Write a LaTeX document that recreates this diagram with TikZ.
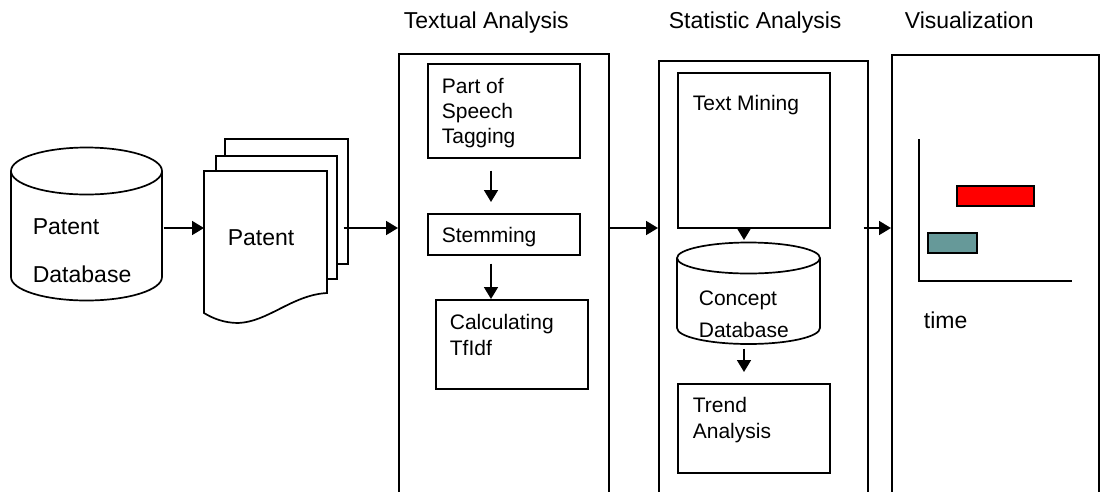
\documentclass[tikz,border=0pt]{standalone}
\usepackage{fontspec}
\setmainfont{Liberation Sans}
\usetikzlibrary{arrows.meta}
\definecolor{tealbar}{HTML}{669999}
\begin{document}
\begin{tikzpicture}[x=1pt,y=-1pt, line width=1.7pt,
  box/.style={draw, inner sep=0pt, anchor=north west, fill=white},
  area/.style={inner sep=0pt, anchor=north west},
  arr/.style={-{Triangle[length=12pt,width=14pt]}},
  tin/.style={font=\fontsize{21}{22}\selectfont, inner sep=0pt, anchor=base west, align=left},
  tout/.style={font=\fontsize{23}{24}\selectfont, inner sep=0pt, anchor=base west, align=left}]
\useasboundingbox (0,0) rectangle (1100,491);

% titles
\node[tout] (t1) at (403,28) {Textual Analysis};
\node[tout] (t2) at (668,28) {Statistic Analysis};
\node[tout] (t3) at (904,28) {Visualization};

% panels (open at the bottom: cut by the page)
\node[box, minimum width=210pt, minimum height=460pt] (ta) at (398,53) {};
\node[box, minimum width=209pt, minimum height=460pt] (sa) at (658,60) {};
\node[box, minimum width=207pt, minimum height=460pt] (va) at (891,54) {};

% patent database cylinder
\node[area, minimum width=151pt, minimum height=152pt] (db) at (11,148) {};
\draw[fill=white] (11,171) -- (11,277) arc[start angle=180, end angle=0, x radius=75.5, y radius=23.5] -- (162,171);
\draw (86.5,171) ellipse [x radius=75.5, y radius=23.5];
\node[tout] (dbt1) at (32,234) {Patent};
\node[tout] (dbt2) at (32,282) {Database};

% document stack
\node[box, minimum width=123pt, minimum height=125pt] (p3) at (224,138) {};
\node[box, minimum width=121pt, minimum height=123pt] (p2) at (215,155) {};
\node[area, minimum width=123pt, minimum height=142pt] (doc) at (204,171) {};
\draw[fill=white] (204,171) -- (327,171) -- (327,293)
  .. controls (292,295) and (268,322) .. (238,323)
  .. controls (224,323) and (212,318) .. (204,313) -- cycle;
\node[tout] (doct) at (227,245) {Patent};

% textual analysis
\node[box, minimum width=152pt, minimum height=94pt] (pos) at (427,63) {};
\node[tin, font=\fontsize{21}{25}\selectfont] at (441,143) {Part of\\Speech\\Tagging};
\node[box, minimum width=152pt, minimum height=41pt] (stem) at (427,213) {};
\node[tin] at (441,242) {Stemming};
\node[box, minimum width=152pt, minimum height=89pt] (calc) at (435,299) {};
\node[tin, font=\fontsize{21}{26}\selectfont] at (449,355) {Calculating\\TfIdf};

\draw[arr] ([xshift=64pt,yshift=-12pt]pos.south west) -- ([xshift=64pt,yshift=11pt]stem.north west);
\draw[arr] ([xshift=64pt,yshift=-8pt]stem.south west) -- ([xshift=56pt]calc.north west);

% statistic analysis
\node[box, minimum width=152pt, minimum height=155pt] (tm) at (677,72) {};
\node[tin] at (692,110) {Text Mining};
\node[area, minimum width=143pt, minimum height=101pt] (cdb) at (677,243) {};
\draw[fill=white] (677,258) -- (677,328) arc[start angle=180, end angle=0, x radius=71.5, y radius=16] -- (820,258);
\draw (748.5,258) ellipse [x radius=71.5, y radius=15.5];
\node[tin, font=\fontsize{21}{32}\selectfont] at (698,337) {Concept\\Database};
\node[box, minimum width=152pt, minimum height=89pt] (trend) at (677,383) {};
\node[tin, font=\fontsize{21}{26}\selectfont] at (692,438) {Trend\\Analysis};

\draw[arr] ([xshift=67pt]tm.south west) -- ([xshift=67pt,yshift=3pt]cdb.north west);
\draw[arr] ([xshift=67pt,yshift=-3pt]cdb.south west) -- ([xshift=67pt,yshift=11pt]trend.north west);

% visualization
\draw (919,139) -- (919,281) -- (1072,281);
\draw[fill=red] (957,186) rectangle (1034,206);
\draw[fill=tealbar] (928,233) rectangle (977,253);
\node[tout] (time) at (923,328) {time};

% main flow arrows
\coordinate (lev) at (0,228);
\coordinate (p3e) at ([xshift=-5pt]p3.east);
\coordinate (sae) at ([xshift=-5pt]sa.east);
\draw[arr] (db.east |- lev) -- (doc.west |- lev);
\draw[arr] (p3e |- lev) -- (ta.west |- lev);
\draw[arr] (ta.east |- lev) -- (sa.west |- lev);
\draw[arr] (sae |- lev) -- (va.west |- lev);
\end{tikzpicture}
\end{document}
